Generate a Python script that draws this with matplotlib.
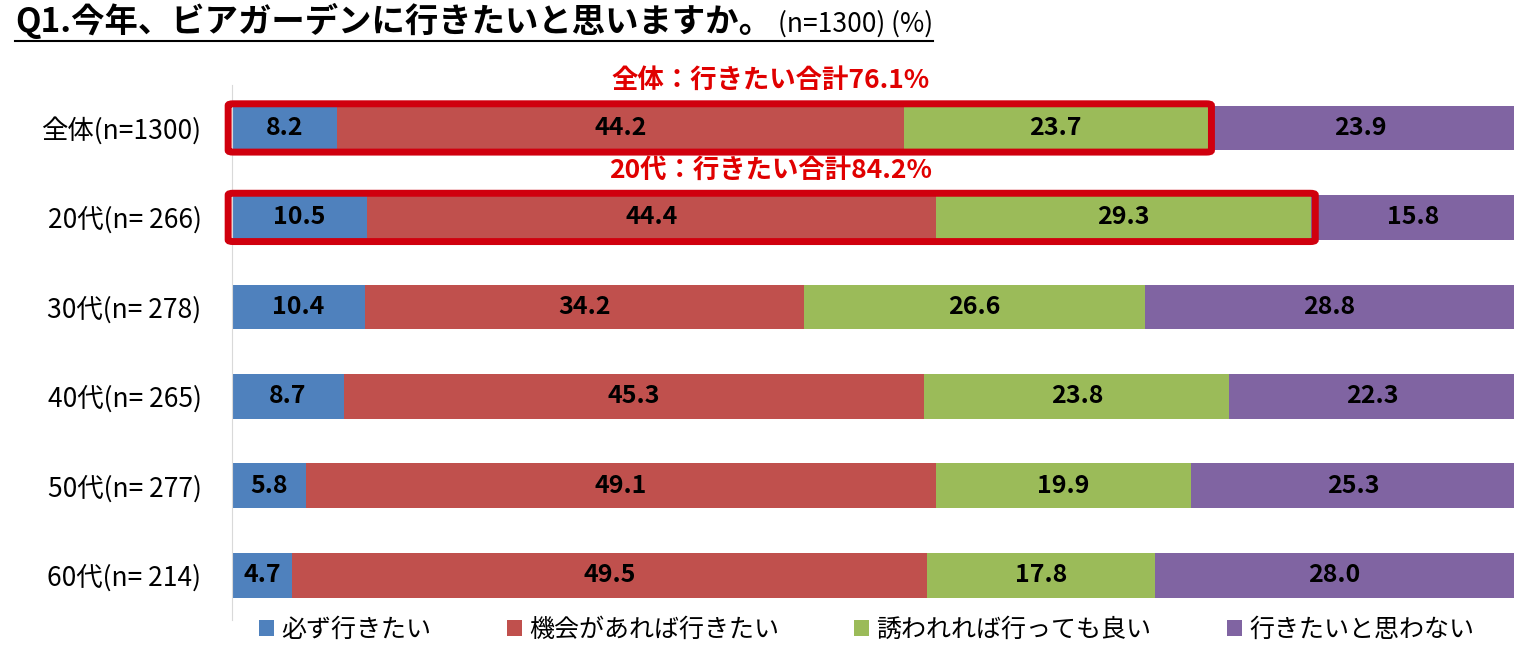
import matplotlib
matplotlib.use("Agg")
import matplotlib.pyplot as plt
import numpy as np
from matplotlib.patches import FancyBboxPatch, Patch
from matplotlib.lines import Line2D

plt.rcParams['font.family'] = ['Noto Sans CJK JP', 'DejaVu Sans']

# ---------------------------------------------------------------------------
# DATA
# ---------------------------------------------------------------------------
groups = ["全体(n=1300)", "20代(n= 266)", "30代(n= 278)",
          "40代(n= 265)", "50代(n= 277)", "60代(n= 214)"]
series_names = ["必ず行きたい", "機会があれば行きたい",
                "誘われれば行っても良い", "行きたいと思わない"]
must_go = [8.2, 10.5, 10.4, 8.7, 5.8, 4.7]
if_chance = [44.2, 44.4, 34.2, 45.3, 49.1, 49.5]
if_invited = [23.7, 29.3, 26.6, 23.8, 19.9, 17.8]
not_go = [23.9, 15.8, 28.8, 22.3, 25.3, 28.0]
colors = ["#4F81BD", "#C0504D", "#9BBB59", "#8064A2"]

# highlighted rows: (row index, label text, total of "want to go")
highlights = [(0, "全体：行きたい合計76.1%", 76.1),
              (1, "20代：行きたい合計84.2%", 84.2)]

title_main = "Q1.今年、ビアガーデンに行きたいと思いますか。"
title_sub = "(n=1300) (%)"

# ---------------------------------------------------------------------------
# PLOT
# ---------------------------------------------------------------------------
fig = plt.figure(figsize=(15.31, 6.54), dpi=100)
ax = fig.add_axes([232 / 1531, 34 / 654, 1282 / 1531, 535 / 654])

y = np.arange(len(groups))
left = np.zeros(len(groups))
for vals, name, col in zip([must_go, if_chance, if_invited, not_go],
                           series_names, colors):
    vals = np.array(vals)
    ax.barh(y, vals, left=left, height=0.5, color=col, label=name)
    for yi, l, v in zip(y, left, vals):
        ax.text(l + v / 2, yi, f"{v:.1f}", ha='center', va='center',
                fontsize=18, fontweight='bold', color='black')
    left += vals

ax.set_xlim(0, 100)
ax.set_ylim(5.5, -0.48)
ax.set_yticks(y)
ax.set_yticklabels(groups, fontsize=19)
ax.tick_params(axis='y', length=0, pad=22)
ax.set_xticks([])
for s in ['top', 'right', 'bottom']:
    ax.spines[s].set_visible(False)
ax.spines['left'].set_color('#D9D9D9')

# red highlight boxes
for row, label, total in highlights:
    box = FancyBboxPatch((-0.3, row - 0.27), total + 0.6, 0.54,
                         boxstyle="round,pad=0,rounding_size=0.4",
                         fill=False, edgecolor='#D0000E', linewidth=5,
                         clip_on=False, zorder=5, mutation_aspect=0.05)
    ax.add_patch(box)
    ax.text(42, row - 0.53, label, ha='center', va='center', fontsize=19,
            fontweight='bold', color='#E00000', clip_on=False)

# legend
handles = [Patch(facecolor=c, edgecolor='none') for c in colors]
fig.legend(handles, series_names, loc='center', ncol=4, frameon=False,
           bbox_to_anchor=(0.566, 0.037), fontsize=18, handlelength=0.6,
           handleheight=0.6, handletextpad=0.3, columnspacing=3.0)

# title with underline
t1 = fig.text(15 / 1531, 1 - 21 / 654, title_main, fontsize=24,
              fontweight='bold', va='center', ha='left')
fig.canvas.draw()
bb = t1.get_window_extent()
t2 = fig.text(bb.x1 / 1531 + 0.004, 1 - 24 / 654, title_sub, fontsize=19,
              va='center', ha='left')
fig.canvas.draw()
bb2 = t2.get_window_extent()
ul_y = 1 - 41 / 654
fig.add_artist(Line2D([15 / 1531, bb2.x1 / 1531], [ul_y, ul_y],
                      color='black', linewidth=1.5))

fig.savefig("out.png", dpi=100)
